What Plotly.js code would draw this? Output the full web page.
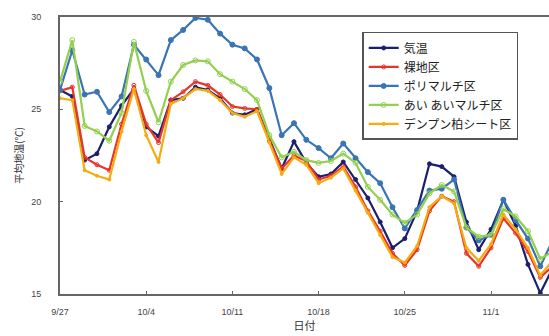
<!DOCTYPE html>
<html>
<head>
<meta charset="utf-8">
<script src="https://cdn.plot.ly/plotly-3.0.1.min.js"></script>
<style>html,body{margin:0;padding:0;background:#fff;}#chart{width:549px;height:336px;}</style>
</head>
<body>
<div id="chart"></div>
<script>
const dates = ["2023-09-27","2023-09-28","2023-09-29","2023-09-30","2023-10-01","2023-10-02","2023-10-03","2023-10-04","2023-10-05","2023-10-06","2023-10-07","2023-10-08","2023-10-09","2023-10-10","2023-10-11","2023-10-12","2023-10-13","2023-10-14","2023-10-15","2023-10-16","2023-10-17","2023-10-18","2023-10-19","2023-10-20","2023-10-21","2023-10-22","2023-10-23","2023-10-24","2023-10-25","2023-10-26","2023-10-27","2023-10-28","2023-10-29","2023-10-30","2023-10-31","2023-11-01","2023-11-02","2023-11-03","2023-11-04","2023-11-05","2023-11-06"];

const airTemp = [26.05,25.7,22.25,22.6,24.05,25.2,26.1,24.05,23.55,25.5,25.6,26.2,26.05,25.6,24.8,24.7,25.0,23.4,21.8,23.25,22.1,21.35,21.5,22.15,21.2,20.2,18.9,17.5,18.0,19.5,22.05,21.9,21.35,18.9,17.4,18.5,20.1,18.7,16.6,15.05,16.4];
const bareSoil = [26.0,26.2,22.4,22.0,21.7,24.2,26.3,24.2,23.2,25.5,25.95,26.5,26.3,25.8,25.15,25.05,25.0,23.3,21.8,22.5,22.2,21.2,21.4,21.9,20.8,19.5,18.4,17.2,16.55,17.4,19.5,20.3,20.0,17.2,16.5,17.5,19.1,18.3,17.3,15.9,16.5];
const polyMulch = [26.05,28.2,25.8,25.95,24.85,25.7,28.5,27.7,26.85,28.75,29.3,29.95,29.85,29.1,28.5,28.3,27.7,26.15,23.6,24.25,23.35,22.9,22.35,23.15,22.35,21.6,21.0,19.7,18.55,19.55,20.6,20.7,21.2,18.6,17.9,18.2,20.1,19.0,18.0,16.5,17.9];
const aiaiMulch = [26.5,28.75,24.1,23.8,23.3,24.8,28.65,26.0,24.3,26.5,27.4,27.65,27.6,26.9,26.5,26.1,25.5,23.6,22.4,22.7,22.25,22.1,22.2,22.6,22.1,20.8,20.1,19.3,18.85,19.3,20.45,20.9,20.55,18.6,18.1,18.2,19.6,19.2,18.4,16.9,17.3];
const starchSheet = [25.6,25.5,21.7,21.4,21.2,23.8,26.1,23.6,22.15,25.3,25.6,26.1,26.0,25.5,24.8,24.6,24.9,23.2,21.5,22.4,22.0,21.0,21.3,21.8,20.6,19.4,18.2,17.0,16.7,17.6,19.7,20.3,19.9,17.5,16.8,17.7,19.3,18.5,17.5,16.0,16.8];

const seriesNames = ["気温","裸地区","ポリマルチ区","あい あいマルチ区","デンプン柏シート区"];
const tickVals = ["2023-09-27","2023-10-04","2023-10-11","2023-10-18","2023-10-25","2023-11-01"];
const tickText = ["9/27","10/4","10/11","10/18","10/25","11/1"];

const jp = '"Noto Sans CJK JP", "Liberation Sans", sans-serif';

const styles = [
  {color:'#1b1f6e', marker:{symbol:'circle', size:4}},
  {color:'#e8352b', marker:{symbol:'circle-open', size:4}},
  {color:'#3a74b4', marker:{symbol:'circle', size:5}},
  {color:'#93d050', marker:{symbol:'circle-open', size:5}},
  {color:'#f5ac12', marker:{symbol:'circle', size:3}}
];
const values = [airTemp, bareSoil, polyMulch, aiaiMulch, starchSheet];

const traces = values.map((v, i) => ({
  x: dates, y: v, name: seriesNames[i], type: 'scatter', mode: 'lines+markers',
  line: {color: styles[i].color, width: 2.2},
  marker: Object.assign({color: styles[i].color, line:{color: styles[i].color, width:1}}, styles[i].marker),
  cliponaxis: true
}));

const layout = {
  width: 549, height: 336,
  margin: {l: 60, r: 0, t: 17, b: 42},
  paper_bgcolor: '#fff', plot_bgcolor: '#fff',
  showlegend: true,
  legend: {
    x: 0.618, y: 0.946, xanchor: 'left', yanchor: 'top',
    bgcolor: '#fff', bordercolor: '#555', borderwidth: 1.5,
    font: {family: jp, size: 12, color: '#222'},
    itemwidth: 30,
    tracegroupgap: 0
  },
  xaxis: {
    type: 'date',
    range: ['2023-09-27', '2023-11-05 17:00'],
    tickvals: tickVals, ticktext: tickText,
    ticks: 'inside', ticklen: 3, tickcolor: '#666',
    showline: true, linecolor: '#666', linewidth: 2, mirror: true,
    showgrid: false, zeroline: false,
    tickfont: {family: '"Liberation Sans", Arial, sans-serif', size: 9, color: '#444'},
    ticklabelstandoff: 8,
    title: {text: '日付', font: {family: jp, size: 11, color: '#333'}, standoff: 6}
  },
  yaxis: {
    range: [15, 30],
    tickvals: [15, 20, 25, 30],
    ticks: 'inside', ticklen: 3, tickcolor: '#666',
    showline: true, linecolor: '#666', linewidth: 2,
    showgrid: false, zeroline: false,
    tickfont: {family: '"Liberation Sans", Arial, sans-serif', size: 9, color: '#444'},
    ticklabelstandoff: 15,
    title: {text: '平均地温(℃)', font: {family: jp, size: 10, color: '#333'}, standoff: 6}
  }
};

Plotly.newPlot('chart', traces, layout, {displayModeBar: false, staticPlot: true});
</script>
</body>
</html>
